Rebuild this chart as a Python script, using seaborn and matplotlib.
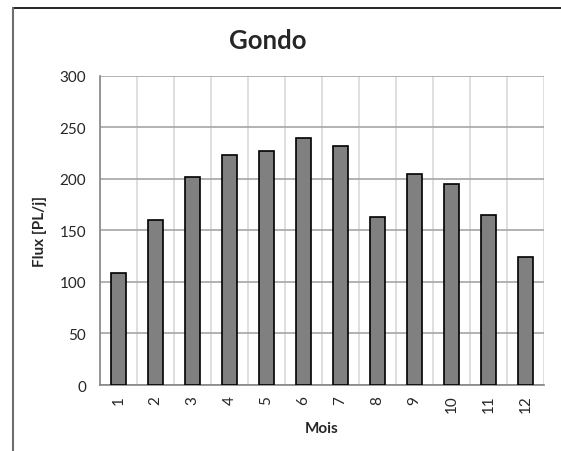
import numpy as np
import pandas as pd
import matplotlib.pyplot as plt
import seaborn as sns
from matplotlib.lines import Line2D

months = ["1", "2", "3", "4", "5", "6", "7", "8", "9", "10", "11", "12"]
flux = [109, 160, 202, 223, 227, 240, 232, 163, 205, 195, 165, 124]
y_ticks = [0, 50, 100, 150, 200, 250, 300]

df = pd.DataFrame({"Mois": months, "Flux": flux})

sns.set_style("white")
plt.rcParams["font.family"] = ["Lato", "DejaVu Sans"]

fig = plt.figure(figsize=(5.61, 4.52), dpi=100)
ax = fig.add_axes([0.178, 0.146, 0.792, 0.684])

sns.barplot(data=df, x="Mois", y="Flux", order=months, color="#808080",
            saturation=1, edgecolor="black", linewidth=1.2, width=0.4, ax=ax,
            zorder=3)

ax.set_ylim(0, 300)
ax.set_xlim(-0.5, len(months) - 0.5)
ax.set_yticks(y_ticks)
ax.set_yticklabels([str(v) for v in y_ticks], fontsize=11)
ax.set_xticks(range(len(months)))
ax.set_xticklabels(months, rotation=90, fontsize=11)
ax.set_xticks(np.arange(-0.5, len(months)), minor=True)

ax.tick_params(axis="x", which="major", length=0, pad=7)
ax.tick_params(axis="x", which="minor", length=5, color="#868686", width=1)
ax.tick_params(axis="y", length=5, color="#868686", width=1, pad=5)

ax.yaxis.grid(True, color="#a6a6a6", linewidth=1.2, zorder=0)
ax.xaxis.grid(True, which="minor", color="#d9d9d9", linewidth=1.2, zorder=0)
ax.set_axisbelow(True)

for side in ["top", "right"]:
    ax.spines[side].set_visible(False)
for side in ["left", "bottom"]:
    ax.spines[side].set_color("#868686")
    ax.spines[side].set_linewidth(1.2)

ax.set_xlabel("Mois", fontsize=11, fontweight="bold", labelpad=6)
ax.set_ylabel("Flux [PL/j]", fontsize=11, fontweight="bold", labelpad=9)

fig.text(0.478, 0.91, "Gondo", ha="center", va="center", fontsize=18.5,
         fontweight="bold")

# outer chart frame (partially visible)
fig.add_artist(Line2D([13 / 561, 1.0], [1 - 9 / 452, 1 - 9 / 452],
                      transform=fig.transFigure, color="black", linewidth=1.2))
fig.add_artist(Line2D([13 / 561, 13 / 561], [0, 1 - 9 / 452],
                      transform=fig.transFigure, color="#6e6e6e", linewidth=1.5))

fig.savefig("out.png", dpi=100)
